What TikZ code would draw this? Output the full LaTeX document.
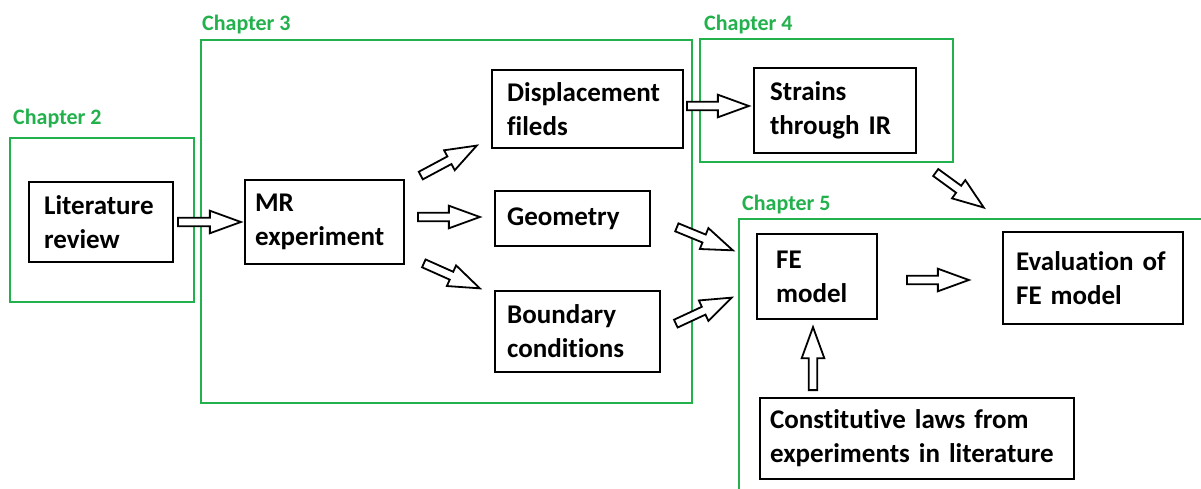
\documentclass[tikz,border=0pt]{standalone}
\usepackage{fontspec}
\setmainfont{Carlito}[Ligatures=NoCommon]
\definecolor{chapgreen}{RGB}{34,177,76}
\usetikzlibrary{shapes.arrows,calc}
\tikzset{
    box/.style={draw,line width=2.2pt,anchor=north west,align=left,
        inner ysep=0pt,font=\bfseries\fontsize{27}{34}\selectfont},
    chapframe/.style={draw=chapgreen,line width=2pt},
    chaplabel/.style={text=chapgreen,anchor=base west,inner sep=0pt,
        font=\bfseries\fontsize{22}{26}\selectfont},
    blkarrow/.style={single arrow,draw,fill=white,line width=1.8pt,
        inner xsep=0pt,inner ysep=3.4pt,single arrow head extend=7pt,
        single arrow tip angle=40,anchor=tail}
}
% hollow block arrow between two named points
\newcommand\blkarrow[2]{%
    \path let \p1=($(#2)-(#1)$) in
        node[blkarrow,minimum height={veclen(\x1,\y1)},rotate={atan2(\y1,\x1)}]
        at (#1) {};}

\begin{document}
\begin{tikzpicture}[x=1pt,y=-1pt]
	\useasboundingbox[fill=white] (0,0) rectangle (1201,489);
	
	% chapter frames
	\draw[chapframe] (10,138) rectangle (194,302);
	\draw[chapframe] (201,40) rectangle (692,403);
	\draw[chapframe] (700,39) rectangle (953,162);
	\draw[chapframe] (739,489)--(739,219)--(1201,219);
	\node[chaplabel] (ch2) at (13,125) {Chapter 2};
	\node[chaplabel] (ch3) at (202,31) {Chapter 3};
	\node[chaplabel] (ch4) at (704,31) {Chapter 4};
	\node[chaplabel] (ch5) at (742,210) {Chapter 5};
	
	% boxes
	\node[box,inner xsep=15pt,text width=114pt,minimum height=80pt] (lit) at (28,181)
		{Literature\\review};
	\node[box,inner xsep=10pt,text width=139pt,minimum height=84pt] (mr) at (244,179)
		{MR\\experiment};
	\node[box,inner xsep=15pt,text width=161pt,minimum height=78pt] (disp) at (491,69)
		{Displacement\\fileds};
	\node[box,inner xsep=12pt,text width=131pt,minimum height=55pt] (geo) at (494,190)
		{Geometry};
	\node[box,inner xsep=12pt,text width=141pt,minimum height=81pt] (bound) at (494,290)
		{Boundary\\conditions};
	\node[box,inner xsep=16pt,text width=130pt,minimum height=85pt] (strain) at (753,67)
		{Strains\\through IR};
	\node[box,inner xsep=19pt,text width=82pt,minimum height=85pt] (fe) at (756,233)
		{FE\\model};
	\node[box,inner xsep=13pt,text width=154pt,minimum height=92pt] (eval) at (1002,231)
		{Evaluation of\\FE model};
	\node[box,inner xsep=10pt,text width=294pt,minimum height=81pt] (const) at (759,397)
		{\mbox{Constitutive laws from}\\\mbox{experiments in literature}};
	
	% arrow ends
	\coordinate (litout) at (177,222);   \coordinate (mrin) at (240,222);
	\coordinate (mrout1) at (420,176);   \coordinate (dispin) at (476,146);
	\coordinate (mrout2) at (417,217);   \coordinate (geoin) at (479,217);
	\coordinate (mrout3) at (423,263);   \coordinate (boundin) at (479,288);
	\coordinate (dispout) at (686,106);  \coordinate (strainin) at (748,106);
	\coordinate (ch4out) at (935,172);   \coordinate (ch5in1) at (983,207);
	\coordinate (geoout) at (676,227);   \coordinate (ch5in2) at (732,250);
	\coordinate (boundout) at (675,324); \coordinate (ch5in3) at (731,298);
	\coordinate (feout) at (906,280);    \coordinate (evalin) at (968,280);
	\coordinate (constout) at (813,391); \coordinate (fein) at (813,328);
	
	\blkarrow{litout}{mrin}
	\blkarrow{mrout1}{dispin}
	\blkarrow{mrout2}{geoin}
	\blkarrow{mrout3}{boundin}
	\blkarrow{dispout}{strainin}
	\blkarrow{ch4out}{ch5in1}
	\blkarrow{geoout}{ch5in2}
	\blkarrow{boundout}{ch5in3}
	\blkarrow{feout}{evalin}
	\blkarrow{constout}{fein}
\end{tikzpicture}
\end{document}
